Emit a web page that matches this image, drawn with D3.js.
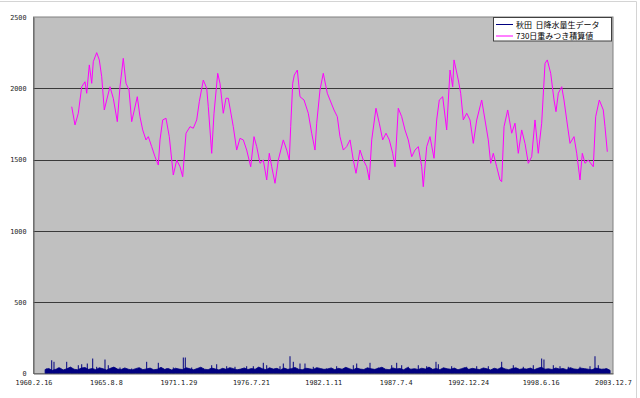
<!DOCTYPE html>
<html><head><meta charset="utf-8">
<script src="https://cdn.jsdelivr.net/npm/d3@7"></script>
<style>body{margin:0;background:#fff}svg{display:block}</style>
</head><body>
<svg id="c" width="640" height="398"></svg>
<script>
// ---- data ----
const startDate = "1960-02-16";
const xTickDays = [0,2000,4000,6000,8000,10000,12000,14000,16000];
const yTicks = [0,500,1000,1500,2000,2500];
const seriesNames = ["秋田  日降水量生データ","730日重みつき積算値"];
// daily precipitation: typical per-period level (mm), every 100 days from day 320
const bandStartDay = 320, bandStepDays = 100;
const bandValues = [28,35,22,30,40,25,33,45,30,26,38,42,29,35,27,40,33,24,36,45,31,28,39,30,25,34,41,27,32,38,
 26,30,43,29,35,24,37,31,28,40,33,26,35,44,30,27,38,32,25,36,29,41,34,26,31,39,28,35,30,45,
 33,27,40,31,36,25,38,29,34,42,30,26,37,33,28,41,35,29,32,39,27,36,30,43,34,25,38,31,28,40,
 33,29,36,44,30,27,39,32,35,26,41,30,34,28,37,31,45,29,35,27,40,33,30,38,26,34,42,29,36,31,
 28,39,33,25,37,30,43,32,27,35,40,29,34,31,38,26,36,44,30,33,28,39,31,35,27,41,32,29,37,34,
 30,26,38,33,28,35,22];
// daily precipitation peaks (day index, mm)
const spikeDays = [364,503,566,685,917,1055,1237,1331,1485,1635,1745,1974,2065,2250,2388,2711,2940,3125,3446,3678,3860,4136,4191,4368,4688,4920,5058,5334,5563,5886,6069,6345,6439,6806,6897,7082,7173,7358,7496,7725,8095,8371,8830,8924,9291,9520,9890,10028,10166,10348,10624,10856,11113,11177,11546,11961,12237,12557,12927,13247,13523,13799,14031,14094,14352,14537,14766,15089,15365,15503,15594,15724];
const spikeValues = [35,93,82,42,82,35,58,65,70,105,47,98,58,35,42,35,35,82,75,35,42,112,112,42,35,58,65,51,47,51,51,75,58,51,70,121,82,70,70,47,35,51,58,70,75,42,58,75,58,47,58,51,82,65,51,47,51,51,82,58,47,58,105,98,58,51,47,47,51,121,58,35];
// 730-day weighted sum (day index, mm)
const sumDays = [1055,1146,1237,1284,1331,1422,1469,1541,1607,1651,1745,1817,1883,1955,2021,2112,2203,2314,2388,2479,2554,2637,2711,2866,2940,3015,3106,3170,3263,3355,3446,3493,3567,3658,3749,3860,3954,4045,4119,4211,4321,4412,4506,4578,4688,4782,4826,4920,4984,5086,5149,5240,5315,5378,5516,5610,5701,5793,5886,5997,6088,6163,6254,6345,6439,6510,6577,6668,6759,6897,6991,7063,7101,7157,7201,7284,7358,7469,7587,7681,7772,7819,7910,8001,8112,8186,8297,8388,8462,8554,8647,8739,8830,8904,9015,9106,9200,9272,9338,9456,9548,9641,9733,9824,9917,9981,10072,10166,10257,10348,10442,10533,10624,10718,10762,10856,10947,11058,11132,11204,11298,11408,11500,11574,11610,11729,11795,11867,11961,12052,12143,12237,12375,12466,12557,12623,12695,12789,12880,12927,12991,13093,13203,13294,13385,13479,13570,13661,13755,13846,13937,14031,14123,14186,14280,14371,14426,14490,14584,14647,14722,14813,14923,14998,15089,15153,15227,15318,15456,15522,15622,15732,15779,15843];
const sumValues = [1871,1743,1825,1918,2011,2046,1965,2164,2035,2187,2250,2199,2081,1848,1918,2011,1930,1766,2011,2210,2035,1988,1766,1941,1801,1708,1638,1661,1591,1520,1462,1638,1778,1790,1661,1392,1497,1450,1380,1685,1731,1720,1778,1906,2058,2000,1871,1544,1825,2105,2035,1825,1930,1930,1731,1567,1649,1638,1567,1450,1661,1591,1474,1497,1357,1544,1450,1334,1497,1638,1567,1497,1731,2035,2093,2128,1941,1918,1825,1685,1567,1755,1988,2105,1965,1918,1848,1801,1661,1567,1591,1638,1497,1404,1567,1497,1450,1357,1638,1860,1755,1638,1685,1638,1544,1450,1860,1801,1708,1638,1520,1567,1591,1450,1310,1591,1661,1509,1778,1918,1941,1708,2128,2011,2199,2058,1965,1778,1825,1778,1614,1778,1918,1778,1638,1474,1544,1450,1357,1345,1731,1848,1685,1755,1544,1708,1614,1474,1520,1778,1544,1755,2175,2199,2105,1918,1836,1965,2011,1918,1778,1614,1661,1544,1357,1544,1474,1497,1450,1801,1918,1848,1731,1555];

// ---- chart ----
const svg = d3.select("#c");
const t0 = new Date(startDate + "T00:00:00Z");
const day = n => d3.utcDay.offset(t0, n);
const L = 33.5, R = 613, T = 17, B = 373.5;
const x = d3.scaleUtc().domain([day(0), day(16000)]).range([L, R]);
const y = d3.scaleLinear().domain([0, 2500]).range([B, T]);

// outer frame lines
svg.append("line").attr("x1",0).attr("x2",636.5).attr("y1",1.5).attr("y2",1.5).attr("stroke","#d4d4d4");
svg.append("line").attr("x1",636.5).attr("x2",636.5).attr("y1",1.5).attr("y2",398).attr("stroke","#d4d4d4");

svg.append("rect").attr("x",L).attr("y",T).attr("width",R-L).attr("height",B-T)
  .attr("fill","#c0c0c0").attr("stroke","#808080");

// gridlines
svg.append("g").selectAll("line").data(yTicks.filter(v=>v>0 && v<2500)).join("line")
  .attr("x1",L).attr("x2",R).attr("y1",d=>Math.round(y(d))+0.5).attr("y2",d=>Math.round(y(d))+0.5)
  .attr("stroke","#3a3a3a").attr("stroke-width",1);

// daily precipitation
const band = bandValues.map((v,i)=>({d:bandStartDay+i*bandStepDays, v}));
svg.append("path").datum(band)
  .attr("d", d3.area().x(p=>x(day(p.d))).y0(y(0)).y1(p=>y(p.v)))
  .attr("fill","#000080").attr("stroke","#000080").attr("stroke-width",0.8);
svg.append("g").selectAll("line").data(spikeDays.map((d,i)=>({d, v:spikeValues[i]}))).join("line")
  .attr("x1",p=>x(day(p.d))).attr("x2",p=>x(day(p.d)))
  .attr("y1",y(0)).attr("y2",p=>y(p.v))
  .attr("stroke","#000080").attr("stroke-width",1);

// weighted sum
svg.append("path").datum(sumDays.map((d,i)=>({d, v:sumValues[i]})))
  .attr("d", d3.line().x(p=>x(day(p.d))).y(p=>y(p.v)))
  .attr("fill","none").attr("stroke","#ff00ff").attr("stroke-width",1);

// axes
const fmt = dt => `${dt.getUTCFullYear()}.${dt.getUTCMonth()+1}.${dt.getUTCDate()}`;
const xAxis = d3.axisBottom(x).tickValues(xTickDays.map(day)).tickFormat(fmt).tickSize(0).tickPadding(7);
const gx = svg.append("g").attr("transform",`translate(0,${B})`).call(xAxis);
const yAxis = d3.axisLeft(y).tickValues(yTicks).tickFormat(d3.format("d")).tickSize(0).tickPadding(7);
const gy = svg.append("g").attr("transform",`translate(${L},0)`).call(yAxis);
[gx,gy].forEach(g=>{
  g.select(".domain").attr("stroke","#606060");
  g.selectAll("text").attr("font-family","'DejaVu Sans Mono', monospace").attr("font-size","6.8px").attr("fill","#222");
});

// legend
const lg = svg.append("g");
lg.append("rect").attr("x",493.5).attr("y",17.5).attr("width",118).attr("height",23.5)
  .attr("fill","#fff").attr("stroke","#404040");
const colors = ["#000080","#ff00ff"];
seriesNames.forEach((n,i)=>{
  const yy = 24.5 + i*11.5;
  lg.append("line").attr("x1",496).attr("x2",513).attr("y1",yy).attr("y2",yy).attr("stroke",colors[i]);
  lg.append("text").attr("x",516).attr("y",yy+3).text(n).attr("xml:space","preserve").style("white-space","pre")
    .attr("font-family","'Noto Sans CJK JP', sans-serif").attr("font-size","8px").attr("fill","#000");
});
</script>
</body></html>
